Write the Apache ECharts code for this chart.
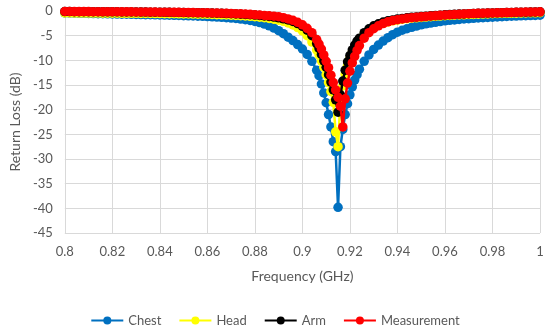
<!DOCTYPE html>
<html>
<head>
<meta charset="utf-8">
<script src="https://cdn.jsdelivr.net/npm/echarts@6/dist/echarts.min.js"></script>
<style>html,body{margin:0;padding:0;background:#fff}#c{width:550px;height:332px}</style>
</head>
<body>
<div id="c"></div>
<script>
var freq = [
0.800,0.802,0.804,0.806,0.808,0.810,0.812,0.814,0.816,0.818,
0.820,0.822,0.824,0.826,0.828,0.830,0.832,0.834,0.836,0.838,
0.840,0.842,0.844,0.846,0.848,0.850,0.852,0.854,0.856,0.858,
0.860,0.862,0.864,0.866,0.868,0.870,0.872,0.874,0.876,0.878,
0.880,0.882,0.884,0.886,0.888,0.890,0.892,0.894,0.896,0.898,
0.900,0.902,0.904,0.906,
0.907,0.908,0.909,0.910,0.911,0.912,0.913,0.914,0.915,0.916,0.917,0.918,0.919,0.920,0.921,0.922,0.923,
0.924,0.926,0.928,0.930,0.932,0.934,0.936,0.938,0.940,0.942,
0.944,0.946,0.948,0.950,0.952,0.954,0.956,0.958,0.960,0.962,
0.964,0.966,0.968,0.970,0.972,0.974,0.976,0.978,0.980,0.982,
0.984,0.986,0.988,0.990,0.992,0.994,0.996,0.998,1.000
];

var chest = [
-0.40,-0.42,-0.44,-0.46,-0.48,-0.50,-0.52,-0.54,-0.56,-0.58,
-0.60,-0.62,-0.64,-0.66,-0.68,-0.70,-0.72,-0.74,-0.76,-0.78,
-0.80,-0.82,-0.85,-0.88,-0.91,-0.94,-0.97,-1.00,-1.04,-1.08,
-1.12,-1.17,-1.22,-1.28,-1.35,-1.43,-1.52,-1.63,-1.76,-1.92,
-2.11,-2.35,-2.65,-3.00,-3.45,-4.00,-4.60,-5.30,-6.00,-6.80,
-7.70,-8.80,-10.2,-12.0,
-13.1,-14.8,-16.6,-18.6,-21.0,-23.5,-26.5,-28.5,-39.8,-27.5,-24.0,-21.0,-18.8,-17.0,-15.4,-14.0,-12.9,
-11.8,-10.2,-8.9,-7.8,-6.9,-6.1,-5.4,-4.8,-4.3,-3.9,
-3.6,-3.3,-3.05,-2.8,-2.6,-2.45,-2.3,-2.15,-2.0,-1.9,
-1.8,-1.7,-1.62,-1.55,-1.48,-1.42,-1.36,-1.3,-1.25,-1.2,
-1.15,-1.1,-1.06,-1.02,-0.98,-0.95,-0.92,-0.89,-0.86
];

var head = [
-0.40,-0.40,-0.41,-0.41,-0.42,-0.42,-0.43,-0.43,-0.44,-0.44,
-0.45,-0.45,-0.46,-0.47,-0.47,-0.48,-0.49,-0.50,-0.51,-0.52,
-0.53,-0.54,-0.55,-0.56,-0.58,-0.59,-0.61,-0.62,-0.64,-0.66,
-0.68,-0.71,-0.74,-0.77,-0.81,-0.85,-0.90,-0.95,-1.01,-1.08,
-1.16,-1.26,-1.37,-1.50,-1.66,-1.86,-2.10,-2.42,-2.82,-3.35,
-4.05,-5.00,-6.30,-7.90,
-8.9,-10.1,-11.4,-12.9,-14.5,-16.3,-18.5,-24.5,-27.5,-18.0,-15.2,-12.8,-11.0,-9.6,-8.4,-7.4,-6.6,
-6.0,-4.8,-3.95,-3.3,-2.85,-2.5,-2.22,-2.0,-1.83,-1.69,
-1.57,-1.47,-1.38,-1.3,-1.22,-1.15,-1.08,-1.02,-0.96,-0.91,
-0.86,-0.81,-0.77,-0.73,-0.69,-0.66,-0.62,-0.59,-0.56,-0.53,
-0.51,-0.48,-0.46,-0.44,-0.42,-0.4,-0.38,-0.36,-0.34
];

var arm = [
-0.12,-0.12,-0.13,-0.13,-0.14,-0.14,-0.15,-0.15,-0.16,-0.16,
-0.17,-0.17,-0.18,-0.19,-0.19,-0.20,-0.21,-0.22,-0.23,-0.24,
-0.25,-0.26,-0.27,-0.28,-0.30,-0.31,-0.33,-0.34,-0.36,-0.38,
-0.40,-0.43,-0.45,-0.48,-0.52,-0.55,-0.60,-0.64,-0.70,-0.76,
-0.83,-0.91,-1.00,-1.11,-1.24,-1.39,-1.58,-1.82,-2.12,-2.55,
-3.10,-3.90,-5.00,-6.60,
-7.6,-8.8,-10.1,-11.4,-12.9,-14.4,-16.0,-18.0,-20.5,-17.0,-14.2,-12.0,-10.3,-9.0,-7.9,-6.9,-6.1,
-5.5,-4.4,-3.6,-3.0,-2.6,-2.25,-2.0,-1.8,-1.64,-1.5,
-1.39,-1.29,-1.2,-1.12,-1.04,-0.97,-0.9,-0.84,-0.78,-0.73,
-0.68,-0.63,-0.59,-0.55,-0.51,-0.48,-0.45,-0.42,-0.39,-0.36,
-0.34,-0.31,-0.29,-0.27,-0.25,-0.23,-0.21,-0.19,-0.17
];

var measurement = [
-0.10,-0.10,-0.11,-0.11,-0.12,-0.12,-0.13,-0.13,-0.14,-0.14,
-0.15,-0.15,-0.16,-0.17,-0.17,-0.18,-0.19,-0.20,-0.21,-0.22,
-0.23,-0.24,-0.25,-0.26,-0.27,-0.28,-0.30,-0.31,-0.33,-0.35,
-0.37,-0.39,-0.41,-0.44,-0.47,-0.50,-0.54,-0.58,-0.63,-0.68,
-0.74,-0.81,-0.89,-0.98,-1.06,-1.15,-1.35,-1.60,-1.90,-2.30,
-2.80,-3.50,-4.40,-5.80,
-6.7,-7.7,-8.9,-10.2,-11.5,-13.0,-14.5,-16.0,-17.5,-19.3,-23.5,-17.8,-14.6,-12.2,-10.5,-9.2,-8.0,
-7.0,-5.5,-4.4,-3.6,-3.0,-2.55,-2.2,-1.95,-1.75,-1.6,
-1.47,-1.36,-1.26,-1.17,-1.09,-1.01,-0.94,-0.87,-0.81,-0.75,
-0.70,-0.65,-0.60,-0.56,-0.52,-0.48,-0.45,-0.42,-0.39,-0.36,
-0.33,-0.31,-0.28,-0.26,-0.24,-0.22,-0.2,-0.18,-0.16
];

var seriesNames = ['Chest', 'Head', 'Arm', 'Measurement'];
var seriesColors = ['#0070C0', '#FFFF00', '#000000', '#FF0000'];
var seriesValues = [chest, head, arm, measurement];

function pairs(vals) {
  return freq.map(function (f, i) { return [f, vals[i]]; });
}

var FONT = 'Lato';
var TXT = '#595959';
var GRID = '#d9d9d9';

var chart = echarts.init(document.getElementById('c'), null, {renderer: 'canvas'});
chart.setOption({
  animation: false,
  backgroundColor: '#ffffff',
  textStyle: {fontFamily: FONT},
  grid: {left: 58, right: 10, top: 11, bottom: 99, containLabel: false},
  legend: {
    data: seriesNames,
    left: 'center',
    top: 309,
    itemWidth: 32,
    itemHeight: 10,
    itemGap: 17,
    textStyle: {color: TXT, fontSize: 13, fontFamily: FONT}
  },
  xAxis: {
    type: 'value',
    min: 0.8, max: 1, interval: 0.02,
    name: 'Frequency (GHz)',
    nameLocation: 'middle',
    nameGap: 36,
    nameTextStyle: {color: TXT, fontSize: 14, fontFamily: FONT},
    axisLine: {show: true, lineStyle: {color: GRID, width: 1}},
    axisTick: {show: false},
    axisLabel: {color: TXT, fontSize: 13, margin: 12, fontFamily: FONT},
    splitLine: {show: true, lineStyle: {color: GRID, width: 1}}
  },
  yAxis: {
    type: 'value',
    min: -45, max: 0, interval: 5,
    name: 'Return Loss (dB)',
    nameLocation: 'middle',
    nameGap: 38,
    nameTextStyle: {color: TXT, fontSize: 14, fontFamily: FONT},
    axisLine: {show: true, lineStyle: {color: GRID, width: 1}},
    axisTick: {show: false},
    axisLabel: {color: TXT, fontSize: 13, margin: 12, fontFamily: FONT},
    splitLine: {show: true, lineStyle: {color: GRID, width: 1}}
  },
  series: seriesNames.map(function (n, k) {
    return {
      name: n,
      type: 'line',
      data: pairs(seriesValues[k]),
      symbol: 'circle',
      symbolSize: 9.5,
      showAllSymbol: true,
      clip: false,
      color: seriesColors[k],
      lineStyle: {color: seriesColors[k], width: 2.5},
      itemStyle: {color: seriesColors[k]},
      z: 2 + k
    };
  })
});
</script>
</body>
</html>
